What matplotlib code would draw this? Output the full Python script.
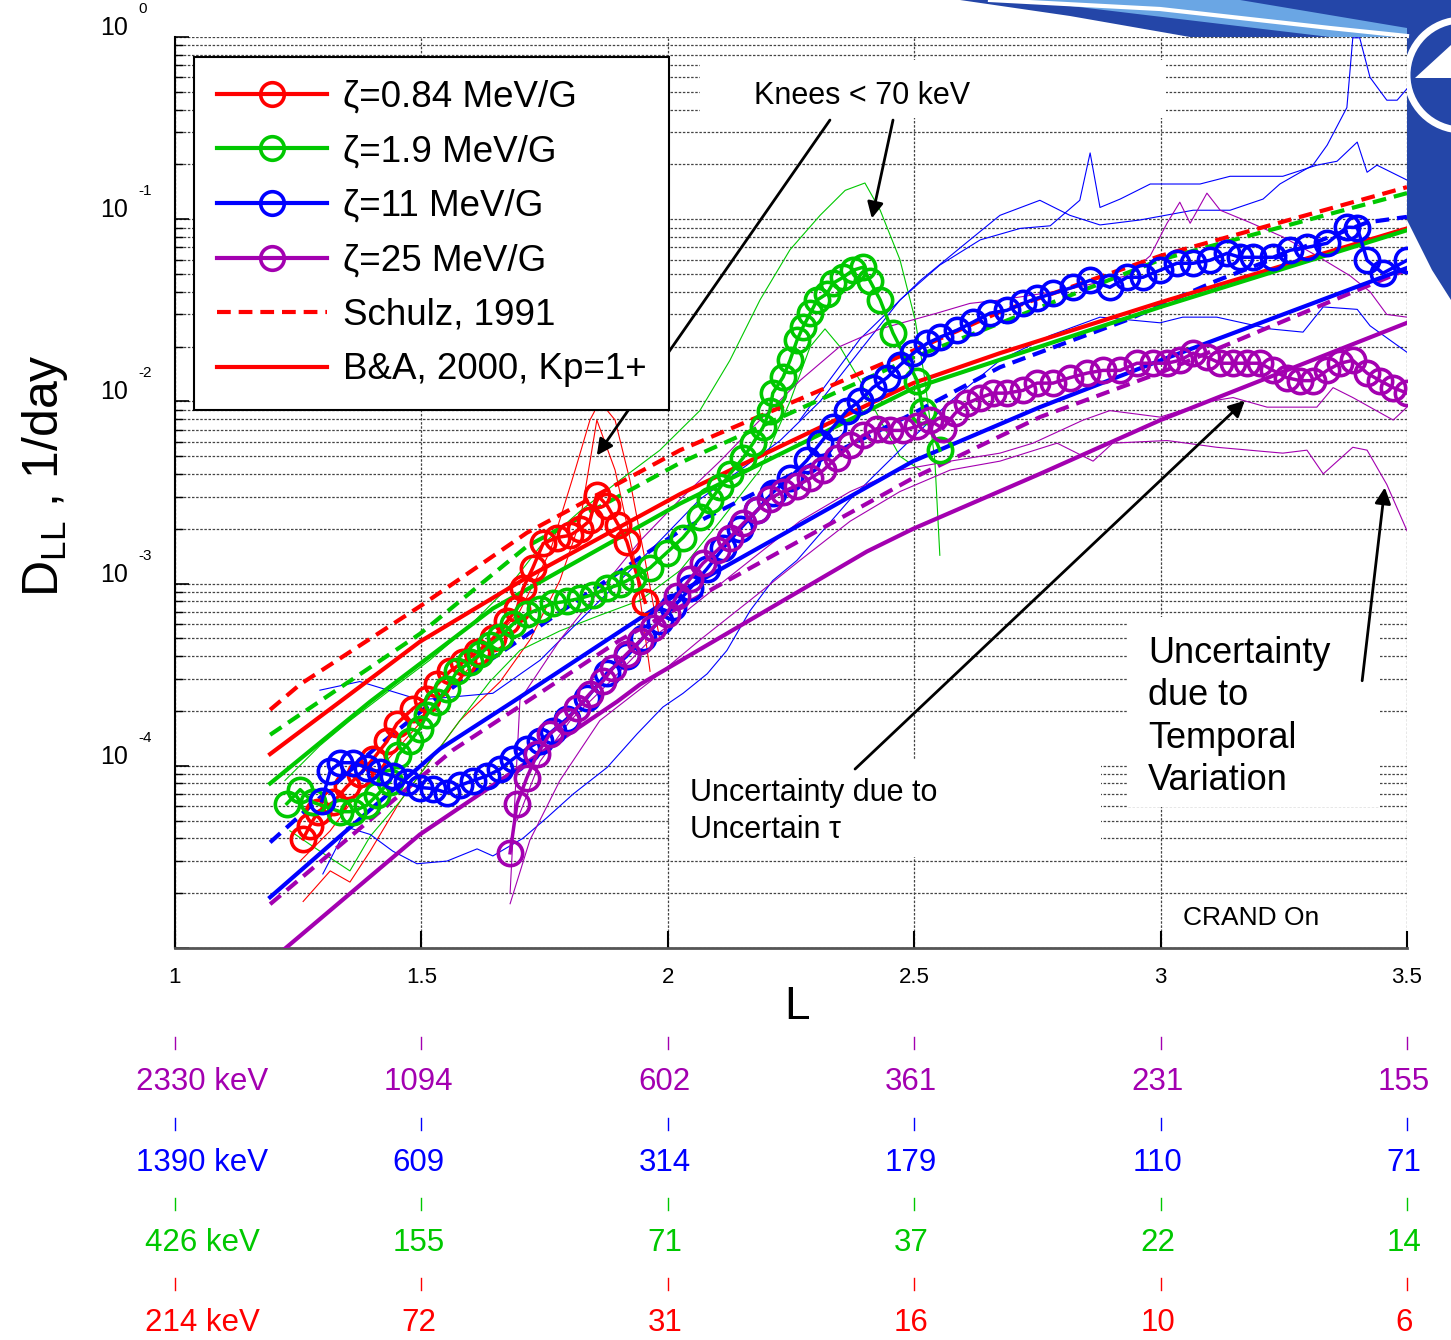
import matplotlib
matplotlib.use("Agg")
import matplotlib.pyplot as plt
import matplotlib.transforms as mtrans
from matplotlib.lines import Line2D
from matplotlib.patches import Rectangle, Polygon, Arc

plt.rcParams['font.family'] = ['Liberation Sans', 'DejaVu Sans']
plt.rcParams['mathtext.fontset'] = 'custom'
plt.rcParams['mathtext.rm'] = 'Liberation Sans'
plt.rcParams['mathtext.it'] = 'Liberation Sans:italic'

RED, GREEN, BLUE, MAG = '#ff0000', '#00c800', '#0000ff', '#a300b0'

# ---- measured D_LL (circles) ----
red_L = [1.260, 1.274, 1.290, 1.321, 1.349, 1.375, 1.402, 1.430, 1.450, 1.483, 1.511, 1.532, 1.558, 1.584,
         1.613, 1.645, 1.674, 1.694, 1.706, 1.726, 1.747, 1.775, 1.802, 1.822, 1.842, 1.856, 1.877, 1.899,
         1.917, 1.954]
red_D = [3.97e-5, 4.7e-5, 5.6e-5, 6.3e-5, 7.7e-5, 9.0e-5, 1.09e-4, 1.36e-4, 1.70e-4, 2.06e-4, 2.33e-4, 2.8e-4,
         3.3e-4, 3.7e-4, 4.2e-4, 5.0e-4, 6.2e-4, 7.3e-4, 9.4e-4, 1.22e-3, 1.66e-3, 1.79e-3, 1.84e-3, 2.0e-3,
         2.22e-3, 3.08e-3, 2.68e-3, 2.11e-3, 1.70e-3, 7.9e-4]

green_L = [1.227, 1.254, 1.280, 1.335, 1.361, 1.390, 1.410, 1.436, 1.453, 1.477, 1.497, 1.511, 1.532, 1.552,
           1.572, 1.599, 1.619, 1.639, 1.660, 1.686, 1.714, 1.741, 1.767, 1.795, 1.822, 1.848, 1.877, 1.903,
           1.929, 1.964, 1.998, 2.031, 2.065, 2.086, 2.106, 2.126, 2.153, 2.173, 2.193, 2.207, 2.213, 2.234,
           2.248, 2.262, 2.274, 2.289, 2.303, 2.323, 2.335, 2.356, 2.376, 2.396, 2.410, 2.431, 2.457, 2.506,
           2.518, 2.552]
green_D = [6.2e-5, 7.4e-5, 6.3e-5, 5.6e-5, 5.6e-5, 6.1e-5, 6.9e-5, 8.2e-5, 1.15e-4, 1.36e-4, 1.6e-4, 1.9e-4,
           2.25e-4, 2.65e-4, 3.3e-4, 3.7e-4, 4.1e-4, 4.6e-4, 5.1e-4, 6.0e-4, 6.8e-4, 7.3e-4, 7.8e-4, 8.0e-4,
           8.3e-4, 8.7e-4, 9.4e-4, 9.9e-4, 1.08e-3, 1.22e-3, 1.48e-3, 1.79e-3, 2.31e-3, 2.86e-3, 3.37e-3,
           4.0e-3, 4.9e-3, 5.9e-3, 7.2e-3, 8.9e-3, 1.11e-2, 1.36e-2, 1.68e-2, 2.16e-2, 2.55e-2, 3.04e-2,
           3.6e-2, 3.9e-2, 4.45e-2, 4.8e-2, 5.25e-2, 5.45e-2, 4.6e-2, 3.6e-2, 2.37e-2, 1.3e-2, 8.9e-3, 5.4e-3]

blue_L = [1.298, 1.315, 1.335, 1.361, 1.390, 1.416, 1.442, 1.471, 1.497, 1.524, 1.552, 1.578, 1.605, 1.633,
          1.660, 1.686, 1.714, 1.741, 1.767, 1.795, 1.836, 1.877, 1.917, 1.950, 1.984, 2.011, 2.045, 2.080,
          2.112, 2.147, 2.181, 2.213, 2.248, 2.282, 2.309, 2.335, 2.364, 2.390, 2.416, 2.445, 2.471, 2.498,
          2.526, 2.552, 2.587, 2.619, 2.654, 2.688, 2.721, 2.749, 2.782, 2.822, 2.857, 2.897, 2.932, 2.964,
          2.999, 3.033, 3.066, 3.100, 3.135, 3.161, 3.187, 3.228, 3.263, 3.297, 3.338, 3.378, 3.399, 3.419,
          3.451, 3.500]
blue_D = [6.43e-5, 9.4e-5, 1.04e-4, 1.04e-4, 9.75e-5, 9.2e-5, 8.8e-5, 8.1e-5, 7.6e-5, 7.5e-5, 7.1e-5, 7.8e-5,
          8.3e-5, 8.8e-5, 9.6e-5, 1.09e-4, 1.24e-4, 1.37e-4, 1.56e-4, 1.81e-4, 2.36e-4, 3.24e-4, 4.0e-4,
          5.05e-4, 6.26e-4, 7.4e-4, 9.4e-4, 1.21e-3, 1.56e-3, 2.0e-3, 2.52e-3, 3.16e-3, 3.82e-3, 4.74e-3,
          5.88e-3, 7.2e-3, 8.9e-3, 1.01e-2, 1.19e-2, 1.35e-2, 1.58e-2, 1.84e-2, 2.08e-2, 2.25e-2, 2.46e-2,
          2.72e-2, 3.05e-2, 3.16e-2, 3.45e-2, 3.68e-2, 3.92e-2, 4.23e-2, 4.62e-2, 4.23e-2, 4.8e-2, 4.8e-2,
          5.25e-2, 5.73e-2, 5.73e-2, 5.95e-2, 6.5e-2, 6.18e-2, 6.18e-2, 6.18e-2, 6.76e-2, 7.0e-2, 7.38e-2,
          9.04e-2, 9.0e-2, 5.95e-2, 5.05e-2, 5.95e-2]

mag_L = [1.680, 1.694, 1.714, 1.735, 1.761, 1.795, 1.816, 1.842, 1.869, 1.889, 1.917, 1.944, 1.970, 1.998,
         2.019, 2.045, 2.071, 2.100, 2.126, 2.153, 2.181, 2.207, 2.234, 2.262, 2.289, 2.315, 2.343, 2.370,
         2.396, 2.425, 2.451, 2.477, 2.506, 2.532, 2.558, 2.583, 2.607, 2.634, 2.660, 2.688, 2.721, 2.749,
         2.782, 2.816, 2.851, 2.883, 2.918, 2.952, 2.985, 3.013, 3.039, 3.066, 3.094, 3.121, 3.147, 3.175,
         3.202, 3.228, 3.256, 3.283, 3.309, 3.338, 3.364, 3.390, 3.419, 3.445, 3.472, 3.500]
mag_D = [3.33e-5, 6.18e-5, 8.6e-5, 1.16e-4, 1.5e-4, 1.77e-4, 2.08e-4, 2.49e-4, 2.93e-4, 3.45e-4, 4.12e-4,
         4.86e-4, 5.73e-4, 6.84e-4, 8.59e-4, 1.06e-3, 1.29e-3, 1.52e-3, 1.79e-3, 2.14e-3, 2.52e-3, 2.93e-3,
         3.2e-3, 3.45e-3, 3.78e-3, 4.18e-3, 4.92e-3, 5.73e-3, 6.5e-3, 7.1e-3, 6.93e-3, 6.93e-3, 7.3e-3,
         7.87e-3, 7.1e-3, 8.6e-3, 9.75e-3, 1.05e-2, 1.11e-2, 1.11e-2, 1.15e-2, 1.26e-2, 1.26e-2, 1.35e-2,
         1.43e-2, 1.48e-2, 1.48e-2, 1.62e-2, 1.62e-2, 1.62e-2, 1.68e-2, 1.84e-2, 1.75e-2, 1.62e-2, 1.62e-2,
         1.62e-2, 1.62e-2, 1.48e-2, 1.35e-2, 1.3e-2, 1.3e-2, 1.48e-2, 1.62e-2, 1.68e-2, 1.43e-2, 1.3e-2,
         1.19e-2, 1.11e-2]

# ---- Schulz 1991 (dashed) ----
schulz_red_L = [1.193, 1.254, 1.497, 1.714, 2.025, 2.498, 2.674, 3.0, 3.5]
schulz_red_D = [2.03e-4, 2.8e-4, 7.5e-4, 1.9e-3, 5.4e-3, 1.9e-2, 3.1e-2, 6.3e-2, 0.15]
schulz_green_L = [1.193, 1.497, 1.714, 2.025, 2.498, 3.0, 3.5]
schulz_green_D = [1.48e-4, 5.3e-4, 1.6e-3, 4.6e-3, 1.74e-2, 6.0e-2, 0.139]
schulz_blue_L = [1.193, 1.402, 1.524, 1.645, 1.944, 2.025, 2.498, 2.674, 2.932, 3.114, 3.419, 3.5]
schulz_blue_D = [3.8e-5, 1.22e-4, 2.25e-4, 3.9e-4, 1.39e-3, 1.95e-3, 8.6e-3, 1.54e-2, 2.8e-2, 4.6e-2, 9.6e-2, 0.103]
schulz_mag_L = [1.193, 1.564, 1.714, 1.903, 2.498, 2.755, 3.0, 3.5]
schulz_mag_D = [1.74e-5, 1.22e-4, 2.25e-4, 4.9e-4, 3.8e-3, 8.2e-3, 1.44e-2, 5.3e-2]

# ---- B&A 2000, Kp=1+ (solid) ----
ba_red_L = [1.193, 1.335, 1.497, 1.714, 2.025, 2.498, 2.674, 3.0, 3.5]
ba_red_D = [1.16e-4, 2.25e-4, 4.8e-4, 1.08e-3, 3.1e-3, 1.26e-2, 1.84e-2, 3.5e-2, 8.9e-2]
ba_green_L = [1.193, 1.396, 1.645, 2.025, 2.498, 3.0, 3.5]
ba_green_D = [8.0e-5, 2.25e-4, 7.3e-4, 2.75e-3, 1.18e-2, 3.3e-2, 8.7e-2]
ba_blue_L = [1.193, 1.538, 1.686, 2.025, 2.498, 2.755, 3.0, 3.5]
ba_blue_D = [1.9e-5, 1.24e-4, 2.25e-4, 9.0e-4, 4.7e-3, 9.3e-3, 1.68e-2, 5.4e-2]
ba_mag_L = [1.215, 1.497, 1.897, 1.944, 2.404, 2.498, 2.755, 3.0, 3.5]
ba_mag_D = [9.5e-6, 4.2e-5, 2.25e-4, 2.8e-4, 1.5e-3, 2.0e-3, 4.0e-3, 7.9e-3, 2.7e-2]

# ---- uncertainty bounds (thin lines) ----
red_hi_L = [1.254, 1.315, 1.375, 1.457, 1.538, 1.619, 1.700, 1.761, 1.812, 1.842, 1.862, 1.893, 1.923, 1.954, 1.984]
red_hi_D = [3.0e-5, 4.4e-5, 7.3e-5, 1.29e-4, 2.3e-4, 4.0e-4, 7.1e-4, 1.5e-3, 4.2e-3, 7.9e-3, 1.0e-2, 7.9e-3,
            3.7e-3, 1.34e-3, 4.9e-4]
red_lo_L = [1.260, 1.315, 1.355, 1.396, 1.457, 1.517, 1.578, 1.660, 1.720, 1.781, 1.822, 1.856, 1.893, 1.933, 1.964]
red_lo_D = [1.8e-5, 2.65e-5, 2.3e-5, 3.4e-5, 6.4e-5, 1.06e-4, 1.77e-4, 2.9e-4, 4.9e-4, 1.04e-3, 2.2e-3, 7.9e-3,
            4.2e-3, 1.34e-3, 3.3e-4]
green_hi_L = [1.223, 1.294, 1.355, 1.436, 1.517, 1.599, 1.680, 1.741, 1.822, 1.903, 1.984, 2.065, 2.126, 2.187,
              2.248, 2.309, 2.360, 2.400, 2.431, 2.471, 2.502, 2.522, 2.542, 2.552]
green_hi_D = [8.3e-5, 1.29e-4, 1.77e-4, 2.6e-4, 3.8e-4, 5.9e-4, 9.8e-4, 1.6e-3, 2.5e-3, 3.7e-3, 5.4e-3, 8.9e-3,
              1.68e-2, 3.6e-2, 6.8e-2, 0.105, 0.144, 0.158, 0.112, 6.0e-2, 2.8e-2, 1.3e-2, 4.7e-3, 1.43e-3]
green_lo_L = [1.233, 1.294, 1.355, 1.396, 1.457, 1.517, 1.578, 1.639, 1.700, 1.781, 1.862, 1.944, 2.025, 2.106,
              2.187, 2.248, 2.289, 2.319, 2.349, 2.390, 2.431, 2.471, 2.512]
green_lo_D = [4.4e-5, 3.4e-5, 2.65e-5, 4.1e-5, 6.4e-5, 1.06e-4, 1.77e-4, 2.9e-4, 4.3e-4, 5.5e-4, 6.7e-4, 8.1e-4,
              1.18e-3, 2.2e-3, 4.2e-3, 1.0e-2, 2.0e-2, 2.5e-2, 2.0e-2, 1.3e-2, 7.9e-3, 5.0e-3, 4.2e-3]
blue_hi_L = [1.294, 1.375, 1.497, 1.645, 1.741, 1.822, 1.903, 1.984, 2.065, 2.147, 2.228, 2.309, 2.390, 2.471,
             2.552, 2.634, 2.715, 2.776, 2.836, 2.857, 2.877, 2.918, 2.979, 3.080, 3.141, 3.248, 3.317, 3.358,
             3.399, 3.419, 3.439, 3.500]
blue_hi_D = [2.6e-4, 2.9e-4, 2.3e-4, 2.5e-4, 3.8e-4, 6.3e-4, 1.04e-3, 1.72e-3, 2.9e-3, 4.2e-3, 6.1e-3, 1.0e-2,
             1.9e-2, 3.6e-2, 5.6e-2, 7.7e-2, 8.9e-2, 9.2e-2, 0.127, 0.231, 0.116, 0.129, 0.156, 0.156, 0.172,
             0.172, 0.198, 0.208, 0.265, 0.181, 0.198, 0.164]
blue_top_L = [2.268, 2.390, 2.512, 2.613, 2.674, 2.755, 2.816, 2.877, 2.958, 3.066, 3.141, 3.208, 3.242, 3.309,
              3.338, 3.378, 3.390, 3.404, 3.425, 3.459, 3.480, 3.500]
blue_top_D = [7.9e-3, 2.2e-2, 4.6e-2, 7.7e-2, 0.105, 0.127, 0.105, 9.3e-2, 9.9e-2, 0.112, 0.112, 0.129, 0.156,
              0.198, 0.255, 0.41, 0.99, 0.99, 0.60, 0.45, 0.45, 0.52]
blue_lo_L = [1.300, 1.349, 1.396, 1.442, 1.491, 1.552, 1.613, 1.645, 1.706, 1.755, 1.808, 1.877, 1.938, 1.990,
             2.031, 2.080, 2.120, 2.167, 2.213, 2.262, 2.370, 2.471, 2.573, 2.674, 2.776, 2.877, 2.999, 3.045,
             3.114, 3.222, 3.289, 3.330, 3.399, 3.425, 3.500]
blue_lo_D = [2.55e-5, 4.6e-5, 4.2e-5, 3.4e-5, 2.9e-5, 3.0e-5, 3.5e-5, 3.2e-5, 4.0e-5, 5.2e-5, 7.0e-5, 9.8e-5,
             1.5e-4, 2.1e-4, 2.5e-4, 3.2e-4, 4.3e-4, 7.1e-4, 1.04e-3, 1.34e-3, 2.9e-3, 5.4e-3, 1.0e-2, 1.68e-2,
             2.3e-2, 2.9e-2, 2.7e-2, 2.9e-2, 2.9e-2, 2.5e-2, 2.4e-2, 3.3e-2, 3.2e-2, 2.6e-2, 1.86e-2]
mag_hi_L = [1.680, 1.700, 1.781, 1.862, 1.944, 2.025, 2.106, 2.187, 2.268, 2.349, 2.431, 2.546, 2.613, 2.674,
            2.810, 2.932, 2.979, 3.013, 3.039, 3.060, 3.094, 3.121, 3.181, 3.248, 3.317, 3.384, 3.425, 3.459, 3.500]
mag_hi_D = [2.0e-5, 2.3e-4, 4.9e-4, 9.2e-4, 1.72e-3, 2.9e-3, 4.7e-3, 7.9e-3, 1.3e-2, 2.0e-2, 2.5e-2, 3.05e-2,
            3.45e-2, 3.6e-2, 4.1e-2, 4.9e-2, 6.3e-2, 9.5e-2, 0.124, 9.5e-2, 0.139, 0.112, 9.6e-2, 8.0e-2, 6.3e-2,
            4.9e-2, 4.0e-2, 3.0e-2, 2.9e-2]
mag_mid_L = [1.694, 1.741, 1.802, 1.883, 1.964, 2.065, 2.167, 2.268, 2.370, 2.471, 2.573, 2.674, 2.741, 2.843,
             2.897, 2.999, 3.100, 3.147, 3.216, 3.317, 3.350, 3.390, 3.472, 3.500]
mag_mid_D = [5.0e-5, 1.06e-4, 1.77e-4, 2.9e-4, 4.9e-4, 8.1e-4, 1.34e-3, 2.2e-3, 3.2e-3, 4.2e-3, 4.7e-3, 5.2e-3,
             5.9e-3, 7.9e-3, 8.9e-3, 8.2e-3, 1.0e-2, 1.05e-2, 9.3e-3, 9.3e-3, 1.19e-2, 1.05e-2, 7.9e-3, 9.3e-3]
mag_lo_L = [1.680, 1.720, 1.781, 1.862, 1.964, 2.065, 2.167, 2.268, 2.370, 2.471, 2.573, 2.674, 2.790, 2.863,
            2.903, 3.013, 3.114, 3.248, 3.297, 3.330, 3.390, 3.419, 3.459, 3.500]
mag_lo_D = [1.75e-5, 3.9e-5, 8.3e-5, 1.77e-4, 2.9e-4, 4.9e-4, 8.1e-4, 1.34e-3, 2.2e-3, 3.2e-3, 4.2e-3, 4.7e-3,
            5.9e-3, 4.7e-3, 5.9e-3, 6.1e-3, 5.6e-3, 5.2e-3, 5.4e-3, 4.0e-3, 5.6e-3, 5.4e-3, 3.5e-3, 1.95e-3]

# ---- energy scale under the L axis ----
L_ticks = [1, 1.5, 2, 2.5, 3, 3.5]
e_mag = ['2330 keV', '1094', '602', '361', '231', '155']
e_blue = ['1390 keV', '609', '314', '179', '110', '71']
e_green = ['426 keV', '155', '71', '37', '22', '14']
e_red = ['214 keV', '72', '31', '16', '10', '6']

W, H = 1451, 1340
fig = plt.figure(figsize=(W / 100, H / 100), dpi=100)

# background logo (top right)
bg = fig.add_axes([0, 0, 1, 1], zorder=-5)
bg.set_xlim(0, W)
bg.set_ylim(H, 0)
bg.axis('off')
bg.add_patch(Polygon([(960, 0), (W, 0), (W, 300), (1432, 270), (1407, 220), (1407, 37), (1190, 37), (1070, 16)],
                     closed=True, color='#2446a8', lw=0))
bg.add_patch(Polygon([(1020, 0), (1240, 0), (1407, 28), (1407, 37), (1330, 37)], closed=True, color='#6aa6e4', lw=0))
bg.plot([990, 1160, 1330, 1407], [0, 9, 28, 36], color='white', lw=3)
bg.add_patch(Arc((1462, 75), 110, 110, theta1=90, theta2=270, color='white', lw=5))
bg.add_patch(Polygon([(1415, 78), (W, 45), (W, 78)], closed=True, color='white', lw=0))

ax = fig.add_axes([175 / W, 1 - 948 / H, 1232 / W, 911 / H])
ax.set_yscale('log')
ax.set_xlim(1, 3.5)
ax.set_ylim(1e-5, 1)
ax.set_axisbelow(True)

gs = dict(color='#444444', lw=0.9, ls=(0, (2, 1.3)))
ax.grid(True, which='both', axis='y', **gs)
ax.grid(True, which='major', axis='x', **gs)
ax.spines['top'].set_visible(False)
ax.spines['right'].set_visible(False)
ax.spines['left'].set_linewidth(1.5)
ax.spines['bottom'].set_color('#555555')
ax.spines['bottom'].set_linewidth(2)

ax.set_xticks(L_ticks)
ax.set_xticklabels(['1', '1.5', '2', '2.5', '3', '3.5'])
ax.tick_params(axis='x', direction='in', length=12, width=1.5, labelsize=16, pad=14)
ax.tick_params(axis='y', which='major', direction='in', length=10, width=1.2, labelleft=False)
ax.tick_params(axis='y', which='minor', direction='in', length=6, width=1, labelleft=False)

for k in range(0, -5, -1):
    ax.annotate('10', xy=(0, 10.0 ** k), xycoords=('axes fraction', 'data'), xytext=(-47, 9),
                textcoords='offset pixels', ha='right', va='center', fontsize=18, annotation_clip=False)
    ax.annotate(str(k), xy=(0, 10.0 ** k), xycoords=('axes fraction', 'data'), xytext=(-37, 28),
                textcoords='offset pixels', ha='left', va='center', fontsize=11, annotation_clip=False)

fig.text(45 / W, 1 - 476 / H, r'D$_{\rm LL}$ , 1/day', rotation=90, ha='center', va='center', fontsize=36)
fig.text(797 / W, 1 - 1007 / H, 'L', ha='center', va='center', fontsize=33)

# white boxes behind annotation text
for x0, y0, w, h in [(0.426, 0.911, 0.378, 0.064), (0.402, 0.100, 0.350, 0.106), (0.7735, 0.155, 0.2045, 0.208)]:
    ax.add_patch(Rectangle((x0, y0), w, h, transform=ax.transAxes, facecolor='white', edgecolor='none', zorder=1))

thin = dict(lw=0.8, zorder=2)
ax.plot(red_hi_L, red_hi_D, color=RED, **thin)
ax.plot(red_lo_L, red_lo_D, color=RED, **thin)
ax.plot(green_hi_L, green_hi_D, color=GREEN, **thin)
ax.plot(green_lo_L, green_lo_D, color=GREEN, **thin)
ax.plot(blue_hi_L, blue_hi_D, color=BLUE, **thin)
ax.plot(blue_top_L, blue_top_D, color=BLUE, **thin)
ax.plot(blue_lo_L, blue_lo_D, color=BLUE, **thin)
ax.plot(mag_hi_L, mag_hi_D, color=MAG, **thin)
ax.plot(mag_mid_L, mag_mid_D, color=MAG, **thin)
ax.plot(mag_lo_L, mag_lo_D, color=MAG, **thin)

dash = (3.3, 1.9)
for Ls, Ds, c in [(schulz_red_L, schulz_red_D, RED), (schulz_green_L, schulz_green_D, GREEN),
                  (schulz_blue_L, schulz_blue_D, BLUE), (schulz_mag_L, schulz_mag_D, MAG)]:
    ax.plot(Ls, Ds, color=c, lw=3, ls='--', dashes=dash, zorder=3)
for Ls, Ds, c in [(ba_red_L, ba_red_D, RED), (ba_green_L, ba_green_D, GREEN),
                  (ba_blue_L, ba_blue_D, BLUE), (ba_mag_L, ba_mag_D, MAG)]:
    ax.plot(Ls, Ds, color=c, lw=3, zorder=3)

circ = dict(marker='o', mfc='none', ms=17.5, mew=2.6, lw=2.5, zorder=4)
ax.plot(red_L, red_D, color=RED, **circ)
ax.plot(green_L, green_D, color=GREEN, **circ)
ax.plot(blue_L, blue_D, color=BLUE, **circ)
ax.plot(mag_L, mag_D, color=MAG, **circ)

handles = [
    Line2D([], [], color=RED, marker='o', mfc='none', ms=17, mew=2.6, lw=3),
    Line2D([], [], color=GREEN, marker='o', mfc='none', ms=17, mew=2.6, lw=3),
    Line2D([], [], color=BLUE, marker='o', mfc='none', ms=17, mew=2.6, lw=3),
    Line2D([], [], color=MAG, marker='o', mfc='none', ms=17, mew=2.6, lw=3),
    Line2D([], [], color=RED, lw=3, ls='--', dashes=dash),
    Line2D([], [], color=RED, lw=3),
]
labels = ['ζ=0.84 MeV/G', 'ζ=1.9 MeV/G', 'ζ=11 MeV/G', 'ζ=25 MeV/G', 'Schulz, 1991', 'B&A, 2000, Kp=1+']
leg = ax.legend(handles, labels, loc='upper left', bbox_to_anchor=(0.0154, 0.978), borderaxespad=0,
                fontsize=26.5, handlelength=3.0, handletextpad=0.42, borderpad=0.62, labelspacing=0.53,
                numpoints=1, fancybox=False, framealpha=1, edgecolor='black')
leg.get_frame().set_linewidth(1.5)
leg.set_zorder(6)

arrow = dict(arrowstyle='-|>', color='black', lw=2, mutation_scale=24, shrinkA=0, shrinkB=0)
ax.annotate('', xy=(1.856, 5.05e-3), xytext=(2.329, 0.35), arrowprops=arrow, zorder=5)
ax.annotate('', xy=(2.414, 0.101), xytext=(2.457, 0.35), arrowprops=arrow, zorder=5)
ax.annotate('', xy=(3.171, 1.01e-2), xytext=(2.380, 9.6e-5), arrowprops=arrow, zorder=5)
ax.annotate('', xy=(3.455, 3.37e-3), xytext=(3.409, 2.93e-4), arrowprops=arrow, zorder=5)

ax.text(0.470, 0.935, 'Knees < 70 keV', transform=ax.transAxes, ha='left', va='center', fontsize=22, zorder=5)
ax.text(0.418, 0.150, 'Uncertainty due to\nUncertain τ', transform=ax.transAxes, ha='left', va='center',
        fontsize=22, linespacing=1.3, zorder=5)
ax.text(0.790, 0.2536, 'Uncertainty\ndue to\nTemporal\nVariation', transform=ax.transAxes, ha='left',
        va='center', fontsize=26, linespacing=1.27, zorder=5)
ax.text(0.818, 0.033, 'CRAND On', transform=ax.transAxes, ha='left', va='center', fontsize=19, zorder=5)

# energy rows below the L axis
trans = mtrans.blended_transform_factory(ax.transData, fig.transFigure)
first = mtrans.ScaledTranslation(27 / 100, 0, fig.dpi_scale_trans)
rest = mtrans.ScaledTranslation(-3 / 100, 0, fig.dpi_scale_trans)
for c, labs, ytick, ytxt in [(MAG, e_mag, 1043, 1082), (BLUE, e_blue, 1124, 1163),
                             (GREEN, e_green, 1204, 1243), (RED, e_red, 1284, 1323)]:
    for i, (Lv, s) in enumerate(zip(L_ticks, labs)):
        fig.add_artist(Line2D([Lv, Lv], [1 - (ytick - 6) / H, 1 - (ytick + 6) / H], transform=trans,
                              color=c, lw=1))
        t = trans + (first if i == 0 else rest)
        fig.text(Lv, 1 - ytxt / H, s, transform=t, ha='center', va='center', fontsize=22.5, color=c)

fig.savefig('out.png', dpi=100)
